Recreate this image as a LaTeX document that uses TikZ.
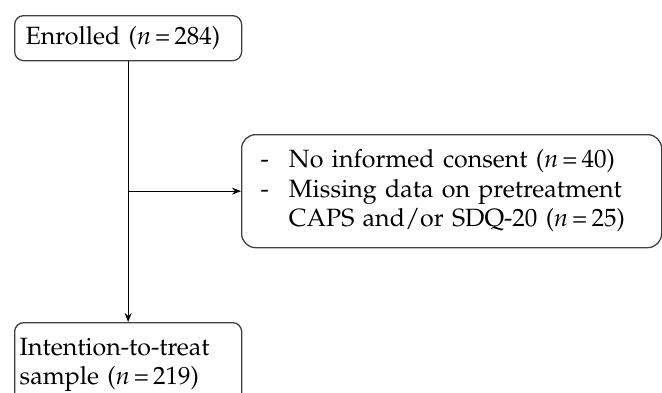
\documentclass[tikz,border=0pt]{standalone}
\usepackage[T1]{fontenc}
\usepackage{mathpazo}
\usetikzlibrary{arrows.meta}
\newcommand{\nis}[1]{(\textit{n}\,=\,#1)}
\begin{document}
\begin{tikzpicture}[x=1pt, y=-1pt,
  every node/.style={draw=black!75, line width=1.3pt, rounded corners=9pt, font=\fontsize{25}{29.5}\selectfont, text=black, align=left},
  flow/.style={line width=1.1pt, -{Stealth[length=9pt, width=7pt]}}
]
  \useasboundingbox (0,0) rectangle (662,392);
  \node[anchor=north west, text width=205pt, inner xsep=11pt, minimum height=45pt] (enrolled) at (14,15) {Enrolled \nis{284}};
  \node[anchor=north west, text width=217pt, inner xsep=5pt, minimum height=84pt] (itt) at (14,322) {Intention-to-treat\\sample \nis{219}};
  \node[anchor=north west, text width=382pt, inner xsep=19pt, minimum height=113pt, rounded corners=14pt] (excl) at (241,134) {%
    \begin{tabular}{@{}l@{\hspace{20pt}}l@{}}
      - & No informed consent \nis{40}\\
      - & Missing data on pretreatment\\
        & CAPS and/or SDQ-20 \nis{25}
    \end{tabular}};
  \coordinate (split) at (enrolled.south |- excl.west);
  \draw[flow] (enrolled.south) -- (itt.north);
  \draw[flow] (split) -- (excl.west);
\end{tikzpicture}
\end{document}
